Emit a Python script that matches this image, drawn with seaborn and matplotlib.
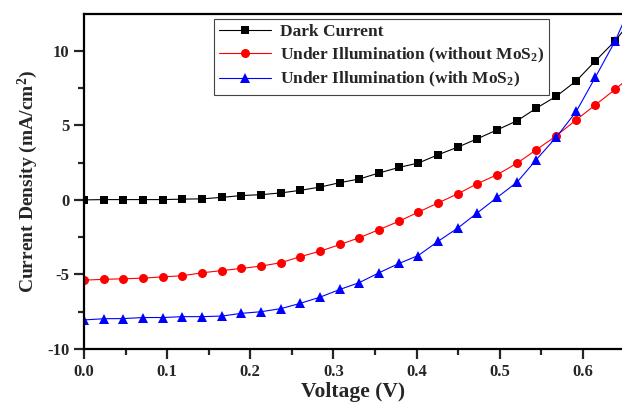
import matplotlib
matplotlib.use("Agg")
import matplotlib.pyplot as plt
import pandas as pd
import seaborn as sns
from matplotlib.ticker import MultipleLocator, FormatStrFormatter

# Voltage sweep (V); last point lies just past the visible area
voltage = [0.000, 0.024, 0.047, 0.071, 0.095, 0.118, 0.142, 0.166, 0.189, 0.213,
           0.237, 0.260, 0.284, 0.308, 0.331, 0.355, 0.379, 0.402, 0.426, 0.450,
           0.473, 0.497, 0.521, 0.544, 0.568, 0.592, 0.615, 0.639, 0.662]

dark_current = [0.00, 0.02, 0.02, 0.02, 0.02, 0.05, 0.07, 0.17, 0.29, 0.35,
                0.47, 0.64, 0.86, 1.16, 1.40, 1.81, 2.18, 2.47, 3.03, 3.55,
                4.10, 4.70, 5.31, 6.15, 6.95, 7.98, 9.32, 10.68, 12.3]

without_mos2 = [-5.38, -5.33, -5.29, -5.25, -5.16, -5.09, -4.89, -4.74, -4.60, -4.44,
                -4.21, -3.81, -3.44, -2.99, -2.54, -1.99, -1.43, -0.82, -0.20, 0.42,
                1.09, 1.69, 2.47, 3.36, 4.30, 5.37, 6.37, 7.42, 8.5]

with_mos2 = [-8.05, -7.97, -7.96, -7.89, -7.89, -7.83, -7.83, -7.79, -7.61, -7.50,
             -7.29, -6.94, -6.52, -6.00, -5.55, -4.88, -4.26, -3.73, -2.77, -1.87,
             -0.87, 0.17, 1.20, 2.70, 4.21, 5.93, 8.23, 10.68, 13.6]

labels = ["Dark Current",
          "Under Illumination (without MoS$_2$)",
          "Under Illumination (with MoS$_2$)"]

df = pd.DataFrame({"voltage": voltage, "dark": dark_current,
                   "without": without_mos2, "with": with_mos2})

sns.set_style("ticks")
plt.rcParams["font.family"] = ["Liberation Serif", "DejaVu Serif"]
plt.rcParams["font.weight"] = "bold"
plt.rcParams["axes.unicode_minus"] = False
plt.rcParams["mathtext.fontset"] = "custom"
plt.rcParams["mathtext.rm"] = "Liberation Serif:bold"
plt.rcParams["mathtext.bf"] = "Liberation Serif:bold"
plt.rcParams["mathtext.it"] = "Liberation Serif:bold"
plt.rcParams["mathtext.default"] = "bf"

fig = plt.figure(figsize=(6.22, 4.03), dpi=100)
ax = fig.add_axes([0.135, 0.134, 0.865, 0.831])

sns.lineplot(ax=ax, data=df, x="voltage", y="dark", color="black", marker="s",
             markersize=5.5, linewidth=0.8, markeredgewidth=0, label=labels[0])
sns.lineplot(ax=ax, data=df, x="voltage", y="without", color="red", marker="o",
             markersize=6.5, linewidth=0.8, markeredgewidth=0, label=labels[1])
sns.lineplot(ax=ax, data=df, x="voltage", y="with", color="blue", marker="^",
             markersize=7, linewidth=0.8, markeredgewidth=0, label=labels[2])

ax.set_xlim(0, 0.647)
ax.set_ylim(-10, 12.46)
ax.xaxis.set_major_locator(MultipleLocator(0.1))
ax.xaxis.set_minor_locator(MultipleLocator(0.05))
ax.yaxis.set_major_locator(MultipleLocator(5))
ax.yaxis.set_minor_locator(MultipleLocator(2.5))
ax.xaxis.set_major_formatter(FormatStrFormatter("%.1f"))

ax.tick_params(which="major", direction="out", length=7, width=1.6, labelsize=12)
ax.tick_params(which="minor", direction="out", length=4, width=1.6)
for lbl in ax.get_xticklabels() + ax.get_yticklabels():
    lbl.set_fontweight("bold")

for side in ["left", "bottom", "top"]:
    ax.spines[side].set_linewidth(1.6)
    ax.spines[side].set_color("black")
ax.spines["right"].set_visible(False)

ax.set_xlabel("Voltage (V)", fontsize=15.5, fontweight="bold", labelpad=2)
ax.set_ylabel("Current Density (mA/cm$^2$)", fontsize=14, fontweight="bold", labelpad=5)

leg = ax.legend(loc="upper left", bbox_to_anchor=(0.2416, 0.985), borderaxespad=0,
                fancybox=False, framealpha=1, edgecolor="#444444",
                prop={"weight": "bold", "size": 12.5},
                handlelength=3.0, handletextpad=0.5, borderpad=0.3, labelspacing=0.3)
leg.get_frame().set_linewidth(0.8)

fig.savefig("out.png", dpi=100)
